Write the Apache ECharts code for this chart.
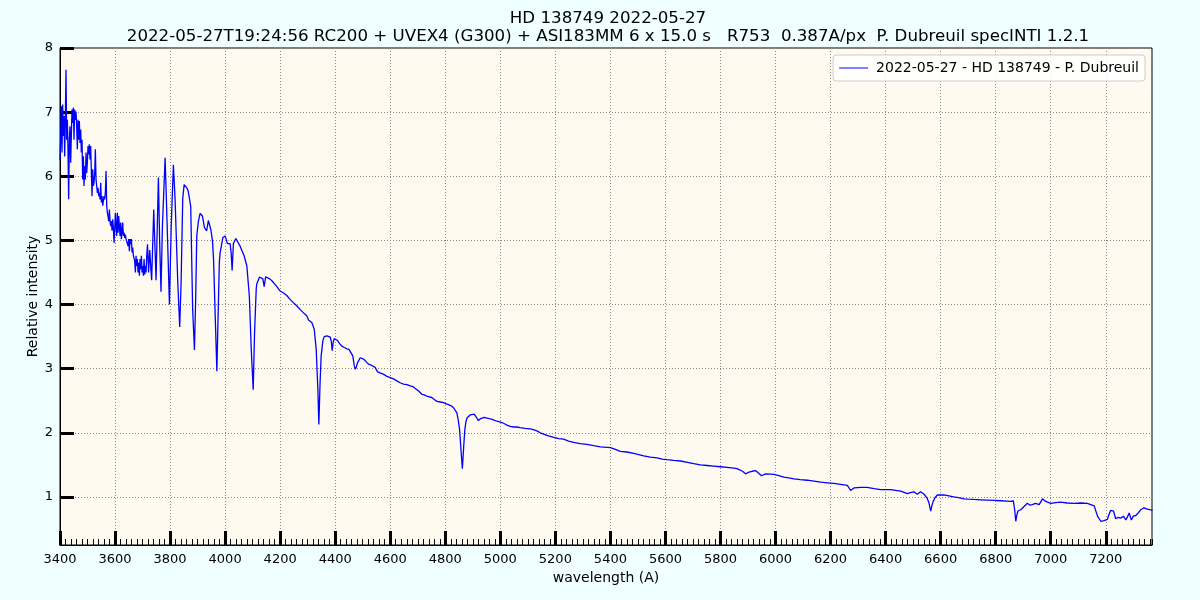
<!DOCTYPE html>
<html>
<head>
<meta charset="utf-8">
<script src="https://cdn.jsdelivr.net/npm/echarts@6/dist/echarts.min.js"></script>
<style>html,body{margin:0;padding:0;background:#f0ffff;}#chart{width:1200px;height:600px;}</style>
</head>
<body>
<div id="chart"></div>
<script>
const wavelength = [
3400,3402.4,3404.8,3407.3,3409.7,3412.1,3414.5,3417.0,3419.4,3421.8,3424.2,3426.7,3429.1,3431.5,3433.9,3436.4,3438.8,3441.2,3443.6,3446.1,
3448.5,3450.9,3453.3,3455.8,3458.2,3460.6,3463.0,3465.5,3467.9,3470.3,3472.7,3475.2,3477.6,3480.0,3482.4,3484.8,3487.3,3489.7,3492.1,3494.5,
3497.0,3499.4,3501.8,3504.2,3506.7,3509.1,3511.5,3513.9,3516.4,3518.8,3521.2,3523.6,3526.1,3528.5,3530.9,3533.3,3535.8,3538.2,3540.6,3543.0,
3545.5,3547.9,3550.3,3552.7,3555.2,3557.6,3560.0,3562.4,3564.8,3567.3,3569.7,3572.1,3574.5,3577.0,3579.4,3581.8,3584.2,3586.7,3589.1,3591.5,
3593.9,3596.4,3598.8,3601.2,3603.6,3606.1,3608.5,3610.9,3613.3,3615.8,3618.2,3620.6,3623.0,3625.5,3627.9,3630.3,3632.7,3635.2,3637.6,3640.0,
3642.4,3644.8,3647.3,3649.7,3652.1,3654.5,3657.0,3659.4,3661.8,3664.2,3666.7,3669.1,3671.5,3673.9,3676.4,3678.8,3681.2,3683.6,3686.1,3688.5,
3690.9,3693.3,3695.8,3698.2,3700.6,3703.0,3705.5,3707.9,3710.3,3712.7,3715.2,3718,3722,3726,3733,3740.6,3749,3757.6,3762,3767,
3772,3782,3791,3797.6,3804,3812,3818,3822,3828,3835,3840,3846,3851,3856,3860.6,3865,3869,3875,3882,3888.5,
3893,3897,3903,3909,3913,3917.6,3925,3933,3939,3948,3954,3958,3964,3970,3974.5,3979,3982,3991.5,4000,4008.5,
4018,4022,4025.5,4030,4039,4054.5,4069,4079,4088,4095,4102,4107,4113,4115,4125,4130,4137,4142,4147,4154,
4162,4170,4176,4188,4200,4212,4224,4236,4248,4260,4273,4285,4297,4303,4315,4320,4324,4331,4337,4340.6,
4345,4349,4355,4360,4370,4382,4386,4389,4393,4397,4408,4416,4424,4433,4442,4450,4457,4464,4469,4473,
4477,4481,4491,4503,4512,4521,4533,4545,4554,4565,4576,4588,4600,4612,4624,4636,4648,4660,4673,4682,
4691,4703,4715,4724,4733,4742,4751,4760,4770,4782,4794,4803,4812,4821,4830,4837,4842,4847,4852,4857,
4862,4867,4871,4875,4879,4891,4905,4915,4920,4923.6,4928,4933,4942,4951,4960,4970,4988,5006,5015,5024,
5036,5048,5060,5072,5090,5109,5120,5133,5145,5157,5175,5194,5212,5230,5248,5267,5290,5315,5339,5364,
5400,5418,5436,5460,5485,5503,5521,5545,5570,5588,5606,5630,5655,5680,5703,5727,5751,5775,5800,5824,
5848,5860,5867,5880,5891,5897,5903,5915,5921,5927,5933,5939,5949,5956,5964,5980,5994,6012,6030,6048,
6067,6090,6115,6140,6164,6188,6212,6237,6261,6268,6273,6277,6285,6310,6333,6358,6382,6418,6455,6479,
6490,6503,6509,6515,6521,6527,6533,6539,6551,6558,6564,6568,6573,6580,6588,6612,6630,6648,6665,6685,
6700,6721,6745,6770,6795,6818,6840,6855,6864,6869,6873,6877,6881,6891,6903,6915,6925,6933,6945,6958,
6970,6982,7000,7018,7036,7060,7085,7110,7133,7158,7170,7182,7194,7206,7212,7218,7228,7236,7245,7255,
7264,7273,7280,7285,7293,7300,7309,7318,7327,7339,7345,7351,7360,7370
];
const intensity = [
6.25,6.57,7.09,6.37,7.12,6.63,6.94,6.31,6.88,7.66,6.57,6.88,6.42,5.64,6.57,6.78,6.21,6.63,7.04,6.83,
7.07,6.57,7.04,6.88,7.01,6.78,6.42,6.88,6.57,6.86,6.52,6.73,6.37,6.57,5.95,6.31,5.85,6.16,5.95,6.37,
6.05,6.21,6.47,6.34,6.50,6.26,6.47,6.08,5.69,6.11,5.85,5.90,6.05,6.42,5.95,5.85,5.74,5.82,5.69,5.74,
5.64,5.90,5.59,5.69,5.54,5.51,5.69,5.64,5.74,6.08,5.54,5.43,5.38,5.30,5.48,5.30,5.22,5.30,5.15,5.33,
5.20,4.96,5.17,5.43,5.22,5.07,5.43,5.12,5.38,5.22,5.07,5.28,5.02,5.15,5.28,5.07,5.12,5.04,5.09,5.02,
5.04,4.99,4.91,5.02,4.83,5.02,4.94,5.02,4.81,4.89,4.76,4.78,4.68,4.50,4.76,4.60,4.71,4.50,4.65,4.45,
4.71,4.55,4.76,4.50,4.60,4.45,4.71,4.47,4.60,4.50,4.76,4.94,4.50,4.85,4.38,5.48,4.38,5.98,5.00,4.20,
5.20,6.29,5.00,4.00,5.20,6.18,5.66,5.65,4.34,3.65,4.34,5.65,5.87,5.84,5.82,5.78,5.69,5.53,3.93,3.29,
4.08,5.07,5.30,5.42,5.40,5.38,5.20,5.15,5.31,5.17,5.00,4.70,3.82,2.96,3.82,4.66,4.81,5.04,5.07,4.95,
4.95,4.80,4.53,4.95,5.03,4.91,4.76,4.60,4.13,3.30,2.67,3.56,4.24,4.32,4.43,4.41,4.40,4.28,4.43,4.45,
4.40,4.37,4.34,4.28,4.21,4.18,4.14,4.08,4.03,3.98,3.92,3.87,3.82,3.76,3.72,3.66,3.61,3.30,2.68,2.13,
2.78,3.20,3.43,3.50,3.51,3.49,3.42,3.28,3.42,3.47,3.44,3.39,3.35,3.33,3.31,3.30,3.28,3.20,3.05,2.99,
3.03,3.09,3.17,3.15,3.11,3.07,3.05,3.02,2.95,2.93,2.91,2.88,2.86,2.84,2.81,2.78,2.76,2.75,2.73,2.72,
2.69,2.65,2.60,2.59,2.57,2.56,2.55,2.52,2.49,2.48,2.47,2.45,2.44,2.42,2.39,2.36,2.31,2.20,2.05,1.74,
1.44,1.79,2.05,2.17,2.23,2.28,2.29,2.23,2.19,2.16,2.22,2.24,2.24,2.23,2.22,2.21,2.18,2.16,2.14,2.12,
2.10,2.09,2.09,2.08,2.07,2.06,2.05,2.03,2.00,1.98,1.95,1.93,1.91,1.90,1.87,1.85,1.83,1.82,1.80,1.78,
1.77,1.74,1.71,1.70,1.68,1.66,1.64,1.62,1.61,1.59,1.58,1.57,1.56,1.54,1.52,1.50,1.49,1.48,1.47,1.46,
1.45,1.44,1.43,1.40,1.36,1.39,1.385,1.40,1.38,1.41,1.39,1.37,1.33,1.36,1.36,1.355,1.35,1.33,1.31,1.295,
1.28,1.27,1.26,1.245,1.23,1.22,1.21,1.195,1.18,1.16,1.10,1.13,1.14,1.15,1.15,1.13,1.115,1.115,1.09,1.05,
1.065,1.08,1.07,1.04,1.06,1.08,1.06,1.045,0.98,0.90,0.78,0.86,0.93,0.99,1.03,1.03,1.015,1.00,0.99,0.97,
0.965,0.96,0.955,0.95,0.945,0.94,0.935,0.93,0.94,0.80,0.62,0.72,0.78,0.80,0.85,0.90,0.87,0.88,0.90,0.88,
0.97,0.93,0.90,0.91,0.92,0.905,0.90,0.905,0.90,0.86,0.70,0.62,0.63,0.65,0.73,0.79,0.78,0.66,0.68,0.67,
0.70,0.64,0.70,0.75,0.64,0.70,0.71,0.75,0.80,0.83,0.80,0.81,0.80,0.79
];
const xMajorTicks = [3400,3600,3800,4000,4200,4400,4600,4800,5000,5200,5400,5600,5800,6000,6200,6400,6600,6800,7000,7200];
const yMajorTicks = [1,2,3,4,5,6,7,8];
const seriesName = '2022-05-27 - HD 138749 - P. Dubreuil';
const titleLine1 = 'HD 138749 2022-05-27';
const titleLine2 = '2022-05-27T19:24:56 RC200 + UVEX4 (G300) + ASI183MM 6 x 15.0 s   R753  0.387A/px  P. Dubreuil specINTI 1.2.1';

const FONT = 'DejaVu Sans';
const data = wavelength.map((w, i) => [w, intensity[i]]);
const chart = echarts.init(document.getElementById('chart'), null, {renderer: 'canvas'});
const gridLine = {show: true, lineStyle: {color: '#8a8a8a', width: 1, type: [1, 2]}};
chart.setOption({
  animation: false,
  backgroundColor: '#f0ffff',
  textStyle: {fontFamily: FONT},
  title: [
    {text: titleLine1, left: 608, top: 10, textAlign: 'center', padding: 0,
     textStyle: {fontSize: 16.67, fontWeight: 'normal', color: '#000', fontFamily: FONT}},
    {text: titleLine2, left: 608, top: 28, textAlign: 'center', padding: 0,
     textStyle: {fontSize: 16.67, fontWeight: 'normal', color: '#000', fontFamily: FONT}}
  ],
  legend: {
    right: 55, top: 55, padding: [6, 6, 6, 6],
    itemWidth: 29, itemHeight: 1,
    backgroundColor: 'rgba(255,255,255,0.85)', borderColor: '#cccccc', borderWidth: 1, borderRadius: 3,
    textStyle: {fontSize: 14, color: '#000', fontFamily: FONT, padding: [0, 0, 0, 3]},
    data: [{name: seriesName, icon: 'rect', itemStyle: {color: '#0000ff'}}]
  },
  grid: {left: 60, right: 48, top: 48, bottom: 55, show: true, backgroundColor: '#fffaf0',
         borderColor: '#000', borderWidth: 1},
  xAxis: [
    {type: 'value', min: 3400, max: 7368,
     name: 'wavelength (A)', nameLocation: 'middle', nameGap: 26,
     nameTextStyle: {fontSize: 14, color: '#000', fontFamily: FONT},
     axisLine: {show: true, lineStyle: {color: '#000', width: 1}},
     axisTick: {show: true, inside: true, length: 14, customValues: xMajorTicks, lineStyle: {color: '#000', width: 3}},
     axisLabel: {show: true, customValues: xMajorTicks, fontSize: 13, color: '#000', margin: 8, fontFamily: FONT,
                 formatter: v => String(v)},
     splitLine: gridLine},
    {type: 'value', min: 3400, max: 7368, interval: 20, position: 'bottom',
     axisLine: {show: false}, axisLabel: {show: false}, splitLine: {show: false},
     axisTick: {show: true, inside: true, length: 6, lineStyle: {color: '#000', width: 1}}}
  ],
  yAxis: {type: 'value', min: 0.25, max: 8,
     name: 'Relative intensity', nameLocation: 'middle', nameGap: 20, nameRotate: 90, nameMoveOverlap: false,
     nameTextStyle: {fontSize: 14, color: '#000', fontFamily: FONT},
     axisLine: {show: true, lineStyle: {color: '#000', width: 1}},
     axisTick: {show: true, inside: true, length: 14, customValues: yMajorTicks, lineStyle: {color: '#000', width: 3}},
     axisLabel: {show: true, customValues: yMajorTicks, fontSize: 13, color: '#000', margin: 7, fontFamily: FONT,
                 formatter: v => String(v)},
     splitLine: gridLine},
  series: [{
    name: seriesName, type: 'line', xAxisIndex: 0, data: data,
    symbol: 'none', showSymbol: false, smooth: false, sampling: 'none',
    lineStyle: {color: '#0000ff', width: 1.3}, itemStyle: {color: '#0000ff'}, clip: true
  }]
});
</script>
</body>
</html>
